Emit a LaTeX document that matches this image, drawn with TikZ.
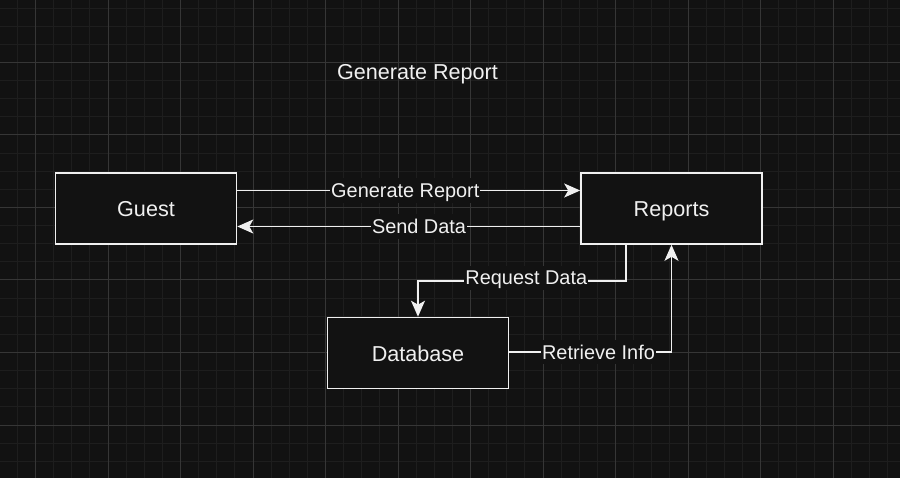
\documentclass[tikz,border=0pt]{standalone}
\usepackage{fontspec}
\setmainfont{Liberation Sans}
\usetikzlibrary{arrows.meta}
\definecolor{bg}{HTML}{121212}
\definecolor{gridminor}{HTML}{1E1E1E}
\definecolor{gridmajor}{HTML}{363636}
\definecolor{ink}{HTML}{F0F0F0}

\begin{document}
\begin{tikzpicture}[x=1pt,y=-1pt,
    box/.style={draw=ink, fill=bg, line width=1.6pt, minimum width=181pt, minimum height=71pt, text=ink, text height=20.5pt, text depth=4.3pt, font=\fontsize{21.6}{26}\selectfont},
    lbl/.style={fill=bg, text=ink, inner sep=1pt, text height=18.3pt, text depth=4pt, font=\fontsize{19.9}{24}\selectfont},
    flow/.style={draw=ink, line width=1.6pt, -{Stealth[length=16pt,width=14pt,inset=4pt]}}]
    \useasboundingbox (0,0) rectangle (900,478);
    \fill[bg] (0,0) rectangle (900,478);
    % grid
    \foreach \i in {0,...,49} \draw[gridminor, line width=1pt] ({-0.75+18.125*\i},0) -- ++(0,478);
    \foreach \j in {1,...,26} \draw[gridminor, line width=1pt] (0,{-10+18.125*\j}) -- ++(900,0);
    \foreach \i in {0,...,11} \draw[gridmajor, line width=1pt] ({35.5+72.5*\i},0) -- ++(0,478);
    \foreach \j in {0,...,5} \draw[gridmajor, line width=1pt] (0,{62.5+72.5*\j}) -- ++(900,0);

    \path
    node[text=ink, text height=19.9pt, text depth=4.4pt, font=\fontsize{21.6}{26}\selectfont] (title) at (417.5,71.5) {Generate Report}
    node[box] (guest) at (146,208.5) {Guest}
    node[box] (reports) at (671.5,208.5) {Reports}
    node[box] (db) at (418,353) {Database};

    \path
    ([yshift=18pt]guest.east) edge[flow] node[lbl, pos=0.49] {Generate Report} ([yshift=18pt]reports.west)
    ([yshift=-18pt]reports.west) edge[flow] node[lbl, pos=0.47] {Send Data} ([yshift=-18pt]guest.east)
    ([yshift=1pt]db.east) edge[flow, to path={-| (\tikztotarget) \tikztonodes}] node[lbl, pos=0.275] {Retrieve Info} (reports.south);

    \draw[flow] ([xshift=-45.25pt]reports.south) -- ++(0,36.5) -| node[lbl, pos=0.24, yshift=3.5pt] {Request Data} (db.north);
\end{tikzpicture}
\end{document}
